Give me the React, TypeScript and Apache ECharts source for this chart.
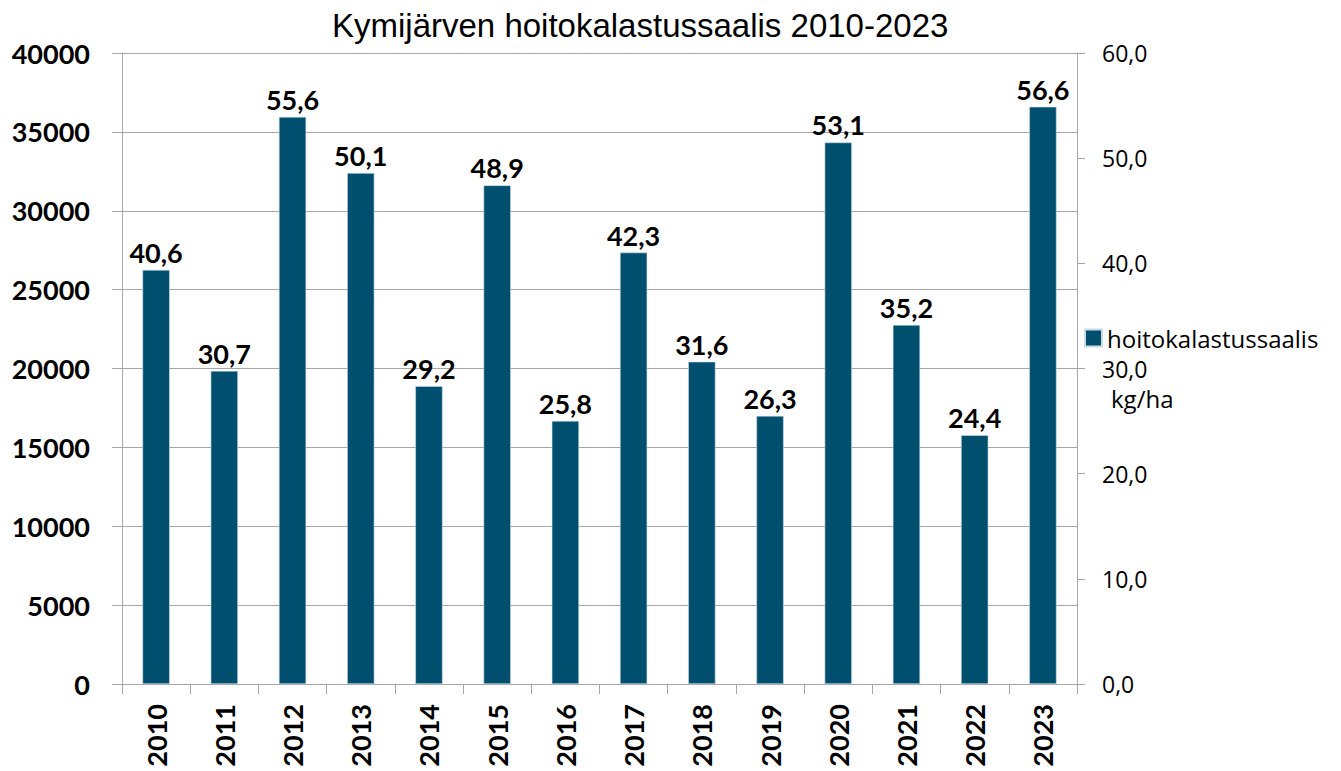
import React, { useEffect, useRef } from "react";
import * as echarts from "echarts";

const years = ["2010", "2011", "2012", "2013", "2014", "2015", "2016", "2017", "2018", "2019", "2020", "2021", "2022", "2023"];
const catchKg = [26250, 19850, 35950, 32390, 18880, 31610, 16680, 27350, 20430, 17000, 34330, 22760, 15770, 36590];
const kgPerHa = [40.6, 30.7, 55.6, 50.1, 29.2, 48.9, 25.8, 42.3, 31.6, 26.3, 53.1, 35.2, 24.4, 56.6];
const seriesName = "hoitokalastussaalis";
const titleText = "Kymijärven hoitokalastussaalis 2010-2023";
const unitText = "kg/ha";

const fmtComma = (v: number) => v.toFixed(1).replace(".", ",");

export default function App() {
  const ref = useRef<HTMLDivElement>(null);
  useEffect(() => {
    if (!ref.current) return;
    const chart = echarts.init(ref.current, null, { renderer: "svg" });
    const gray = "#A6A6A6";
    chart.setOption({
      animation: false,
      backgroundColor: "#ffffff",
      title: {
        text: titleText,
        left: 327,
        top: 4,
        textStyle: { fontFamily: "Liberation Sans", fontSize: 33, fontWeight: "normal", color: "#000" },
      },
      legend: {
        data: [seriesName],
        left: 1084,
        top: 326,
        padding: 0,
        icon: "rect",
        itemWidth: 17,
        itemHeight: 17,
        itemGap: 8,
        textStyle: { fontFamily: "Open Sans", fontSize: 24, lineHeight: 22, color: "#000", padding: [0, 0, 0, 0] },
      },
      graphic: [
        {
          type: "text",
          left: 1111,
          top: 386,
          style: { text: unitText, fontFamily: "Open Sans", fontSize: 24, lineHeight: 22, fill: "#000" },
        },
      ],
      grid: { left: 122, right: 264, top: 53, bottom: 87 },
      xAxis: {
        type: "category",
        data: years,
        axisLine: { lineStyle: { color: gray, width: 1 } },
        axisTick: { show: true, alignWithLabel: false, length: 10, lineStyle: { color: gray } },
        axisLabel: {
          rotate: 90,
          margin: 20,
          fontFamily: "Lato",
          fontWeight: "bold",
          fontSize: 27,
          color: "#000",
        },
        splitLine: { show: false },
      },
      yAxis: [
        {
          type: "value",
          min: 0,
          max: 40000,
          interval: 5000,
          axisLine: { show: true, lineStyle: { color: gray } },
          axisTick: { show: true, length: 10, lineStyle: { color: gray } },
          axisLabel: {
            margin: 32,
            fontFamily: "Lato",
            fontWeight: "bold",
            fontSize: 27,
            color: "#000",
            formatter: (v: number) => String(v),
          },
          splitLine: { show: true, lineStyle: { color: gray, width: 1 } },
        },
        {
          type: "value",
          min: 0,
          max: 60,
          interval: 10,
          position: "right",
          axisLine: { show: true, lineStyle: { color: gray } },
          axisTick: { show: true, length: 8, lineStyle: { color: gray } },
          axisLabel: {
            margin: 25,
            fontFamily: "Open Sans",
            fontSize: 23,
            lineHeight: 21,
            color: "#000",
            formatter: (v: number) => fmtComma(v),
          },
          splitLine: { show: false },
        },
      ],
      series: [
        {
          name: seriesName,
          type: "bar",
          yAxisIndex: 0,
          data: catchKg,
          barCategoryGap: "60%",
          itemStyle: { color: "#004F6E", borderColor: "#C9DCE4", borderWidth: 0.6 },
          label: {
            show: true,
            position: "top",
            distance: 4,
            fontFamily: "Lato",
            fontWeight: "bold",
            fontSize: 27,
            color: "#000",
            formatter: (p: any) => fmtComma(kgPerHa[p.dataIndex]),
          },
        },
      ],
    });
    return () => chart.dispose();
  }, []);
  return <div ref={ref} style={{ position: "fixed", left: 0, top: 0, width: 1341, height: 771 }} />;
}
